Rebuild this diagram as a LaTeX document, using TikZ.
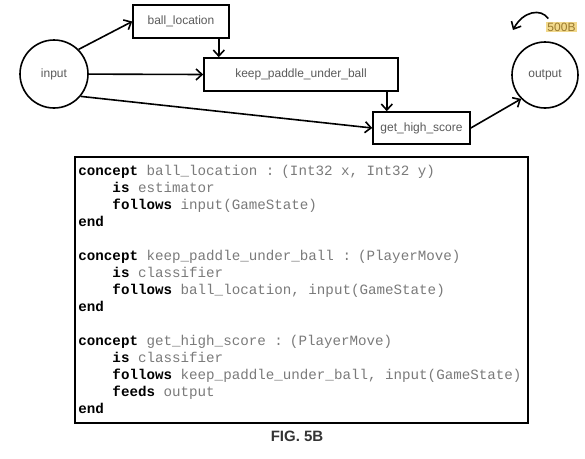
\documentclass[tikz,border=0pt]{standalone}
\usepackage{fontspec}
\setmainfont{Liberation Sans}
\setmonofont{Liberation Mono}
\usepackage{tikz}
\usepackage{xcolor}
\usetikzlibrary{arrows.meta,calc,positioning,shapes}
\definecolor{labelgray}{HTML}{5A5A5A}
\definecolor{codegray}{HTML}{7A7A7A}
\definecolor{tagfill}{HTML}{F2D98C}
\definecolor{tagtext}{HTML}{9A7A2E}
\newcommand{\kw}[1]{\textbf{\color{black}#1}}
\newcommand{\ind}{\phantom{0000}}
\tikzset{%
	concept/.style  = {draw, rectangle, line width=1.6pt, minimum height=33, text=labelgray, font=\fontsize{12}{14}\selectfont, inner sep=0pt},
	port/.style     = {draw, circle, line width=1.6pt, text=labelgray, font=\fontsize{12}{14}\selectfont, inner sep=0pt},
	codebox/.style  = {draw, rectangle, line width=1.8pt, anchor=north west, minimum width=453, minimum height=266, text width=446, inner xsep=3pt, align=left, text=codegray, font=\ttfamily\fontsize{14.2}{17}\selectfont},
	arrow/.style    = {line width=1.6pt, -{Straight Barb[length=6pt,width=11pt,line width=1.6pt]}},
}

\begin{document}
\begin{tikzpicture}[x=1pt,y=-1pt]
	\useasboundingbox (0,0) rectangle (585,458);
	\node[port, minimum size=68] (input) at (54,74) {input};
	\node[port, minimum size=66] (output) at (545,75) {output};
	\node[concept, minimum width=96] (ball) at (181,21.5) {ball\_location};
	\node[concept, minimum width=194] (kpub) at (301,74.5) {keep\_paddle\_under\_ball};
	\node[concept, minimum width=97, minimum height=32] (ghs) at (421.5,128) {get\_high\_score};
	\node[fill=tagfill, text=tagtext, inner sep=1pt, font=\fontsize{12}{14}\selectfont] (tag) at (561.5,27) {500B};
	\coordinate (tip) at (513,30);
	% connectors
	\draw[arrow] (input.45) -- (ball.west);
	\draw[arrow] (input) -- (kpub.west);
	\draw[arrow] (input.-40) -- (ghs.west);
	\draw[arrow] ([xshift=-11]ball.south east) -- ([xshift=-11]ball.south east |- kpub.north);
	\draw[arrow] ([xshift=-12]kpub.south east) -- ([xshift=-12]kpub.south east |- ghs.north);
	\draw[arrow] (ghs.east) -- (output.225);
	\draw[arrow] ($(tag.north west)+(2,-3)$) .. controls (541,8) and (523,11) .. (tip);
	% concept listing
	\node[codebox] (code) at (74,156) {\spaceskip=0.6em\relax
		\kw{concept} ball\_location : (Int32 x, Int32 y)\\
		\ind\kw{is} estimator\\
		\ind\kw{follows} input(GameState)\\
		\kw{end}\\[17pt]
		\kw{concept} keep\_paddle\_under\_ball : (PlayerMove)\\
		\ind\kw{is} classifier\\
		\ind\kw{follows} ball\_location, input(GameState)\\
		\kw{end}\\[17pt]
		\kw{concept} get\_high\_score : (PlayerMove)\\
		\ind\kw{is} classifier\\
		\ind\kw{follows} keep\_paddle\_under\_ball, input(GameState)\\
		\ind\kw{feeds} output\\
		\kw{end}};
	\node[font=\bfseries\fontsize{15}{17}\selectfont, text=black!80] (fig) at (297,436) {FIG. 5B};
\end{tikzpicture}
\end{document}
